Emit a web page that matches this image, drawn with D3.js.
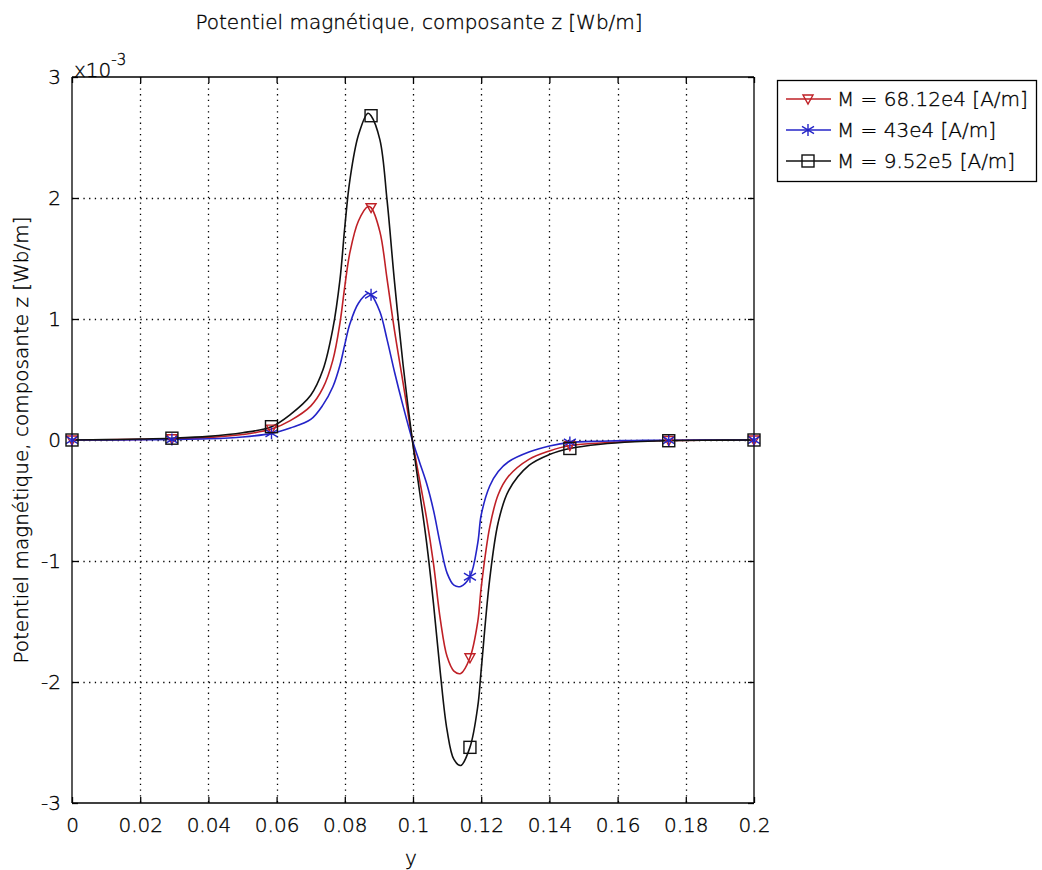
<!DOCTYPE html>
<html>
<head>
<meta charset="utf-8">
<script src="https://cdn.jsdelivr.net/npm/d3@7"></script>
<style>
  html, body { margin: 0; padding: 0; background: #fff; }
  svg { display: block; font-family: "DejaVu Sans", Verdana, sans-serif; font-weight: 200; }
  svg text { fill: #000; stroke: #000; stroke-width: 0.35px; }
</style>
</head>
<body>
<svg id="chart" width="1042" height="870"></svg>
<script>
// Position along y (m)
const yPos = [0, 0.01, 0.02, 0.0293, 0.04, 0.05, 0.0585, 0.064, 0.07, 0.0736, 0.0765, 0.0786, 0.080, 0.0815, 0.084, 0.0868, 0.0877, 0.0903, 0.0924, 0.0946, 0.0971, 0.0998, 0.102, 0.104, 0.106, 0.108, 0.110, 0.112, 0.114, 0.1167, 0.119, 0.120, 0.1225, 0.125, 0.128, 0.134, 0.140, 0.146, 0.155, 0.165, 0.175, 0.185, 0.2];

// Az in units of 1e-3 Wb/m
const azM68 = [0, 0.002, 0.005, 0.01, 0.02, 0.045, 0.09, 0.16, 0.28, 0.43, 0.66, 0.97, 1.27, 1.55, 1.81, 1.93, 1.92, 1.72, 1.33, 0.90, 0.47, 0, -0.34, -0.65, -1.02, -1.48, -1.79, -1.91, -1.93, -1.80, -1.50, -1.22, -0.72, -0.45, -0.30, -0.16, -0.09, -0.045, -0.025, -0.01, -0.004, -0.001, 0];
const azM43 = [0, 0.001, 0.002, 0.004, 0.01, 0.025, 0.055, 0.10, 0.17, 0.29, 0.44, 0.62, 0.79, 0.96, 1.13, 1.21, 1.20, 1.06, 0.83, 0.56, 0.28, 0, -0.19, -0.36, -0.58, -0.86, -1.10, -1.20, -1.21, -1.13, -0.85, -0.62, -0.38, -0.26, -0.18, -0.10, -0.05, -0.02, -0.01, -0.004, -0.002, -0.001, 0];
const azM952 = [0, 0.003, 0.008, 0.015, 0.03, 0.06, 0.11, 0.21, 0.37, 0.58, 0.92, 1.33, 1.76, 2.15, 2.52, 2.70, 2.68, 2.48, 1.98, 1.30, 0.62, 0, -0.44, -0.85, -1.35, -1.92, -2.40, -2.64, -2.69, -2.54, -2.20, -1.90, -1.15, -0.68, -0.42, -0.21, -0.12, -0.07, -0.035, -0.015, -0.006, -0.002, 0];

// Positions that carry a marker
const markerPos = [0, 0.0293, 0.0585, 0.0877, 0.1167, 0.146, 0.175, 0.2];

const xTicks = [0, 0.02, 0.04, 0.06, 0.08, 0.1, 0.12, 0.14, 0.16, 0.18, 0.2];
const xTickLabels = ["0", "0.02", "0.04", "0.06", "0.08", "0.1", "0.12", "0.14", "0.16", "0.18", "0.2"];
const yTicks = [-3, -2, -1, 0, 1, 2, 3];
const yTickLabels = ["-3", "-2", "-1", "0", "1", "2", "3"];

const seriesNames = ["M = 68.12e4 [A/m]", "M = 43e4 [A/m]", "M = 9.52e5 [A/m]"];
const seriesColors = ["#bf2026", "#2424c8", "#111111"];
const seriesMarkers = ["triangle", "star", "square"];
const seriesValues = [azM68, azM43, azM952];

const titleText = "Potentiel magnétique, composante z [Wb/m]";
const xLabelText = "y";
const yLabelText = "Potentiel magnétique, composante z [Wb/m]";

const svg = d3.select("#chart");
const plot = { left: 72, right: 754, top: 77, bottom: 803 };
const fontSize = "20px";

const x = d3.scaleLinear().domain([0, 0.2]).range([plot.left, plot.right]);
const y = d3.scaleLinear().domain([-3, 3]).range([plot.bottom, plot.top]);

// Grid
const grid = svg.append("g").attr("stroke", "#000").attr("stroke-width", 1.3)
  .attr("stroke-dasharray", "1.3,4.4");
grid.selectAll("line.v").data(xTicks.slice(1, -1)).join("line")
  .attr("x1", d => Math.round(x(d)) + 0.5).attr("x2", d => Math.round(x(d)) + 0.5)
  .attr("y1", plot.top).attr("y2", plot.bottom);
grid.selectAll("line.h").data(yTicks.slice(1, -1)).join("line")
  .attr("y1", d => Math.round(y(d)) + 0.5).attr("y2", d => Math.round(y(d)) + 0.5)
  .attr("x1", plot.left).attr("x2", plot.right);

// Axes with inward ticks on all four sides
const tickLen = 6;
const axB = d3.axisBottom(x).tickValues(xTicks).tickSize(-tickLen).tickPadding(15)
  .tickFormat((d, i) => xTickLabels[i]);
const axT = d3.axisTop(x).tickValues(xTicks).tickSize(-tickLen).tickFormat("");
const axL = d3.axisLeft(y).tickValues(yTicks).tickSize(-tickLen).tickPadding(11)
  .tickFormat((d, i) => yTickLabels[i]);
const axR = d3.axisRight(y).tickValues(yTicks).tickSize(-tickLen).tickFormat("");

function styleAxis(g) {
  g.attr("font-family", null).attr("font-size", null);
  g.selectAll("path").attr("stroke", "#000").attr("stroke-width", 1.3);
  g.selectAll("line").attr("stroke", "#000").attr("stroke-width", 1.3);
  g.selectAll("text").style("font-size", fontSize);
}
svg.append("g").attr("transform", `translate(0,${plot.bottom})`).call(axB).call(styleAxis)
  .call(g => g.select(".domain").attr("d", `M${plot.left},0H${plot.right}`));
svg.append("g").attr("transform", `translate(0,${plot.top})`).call(axT).call(styleAxis)
  .call(g => g.select(".domain").attr("d", `M${plot.left},0H${plot.right}`));
svg.append("g").attr("transform", `translate(${plot.left},0)`).call(axL).call(styleAxis)
  .call(g => g.select(".domain").attr("d", `M0,${plot.top}V${plot.bottom}`));
svg.append("g").attr("transform", `translate(${plot.right},0)`).call(axR).call(styleAxis)
  .call(g => g.select(".domain").attr("d", `M0,${plot.top}V${plot.bottom}`));

// Curves
const line = d3.line().x(d => x(d[0])).y(d => y(d[1])).curve(d3.curveCatmullRom.alpha(0.5));
svg.append("clipPath").attr("id", "pc").append("rect")
  .attr("x", plot.left - 8).attr("y", plot.top).attr("width", plot.right - plot.left + 16)
  .attr("height", plot.bottom - plot.top);

function drawMarker(g, kind, cx, cy, color) {
  if (kind === "square") {
    g.append("rect").attr("x", cx - 6).attr("y", cy - 6).attr("width", 12).attr("height", 12)
      .attr("fill", "none").attr("stroke", color).attr("stroke-width", 1.4);
  } else if (kind === "triangle") {
    g.append("path").attr("d", `M${cx - 5},${cy - 4}L${cx + 5},${cy - 4}L${cx},${cy + 5}Z`)
      .attr("fill", "none").attr("stroke", color).attr("stroke-width", 1.4);
  } else {
    const r = 6;
    g.append("path")
      .attr("d", `M${cx},${cy - r}V${cy + r}M${cx - r},${cy - r * 0.6}L${cx + r},${cy + r * 0.6}M${cx - r},${cy + r * 0.6}L${cx + r},${cy - r * 0.6}`)
      .attr("stroke", color).attr("stroke-width", 1.4).attr("fill", "none");
  }
}

const curves = svg.append("g").attr("clip-path", "url(#pc)");
seriesValues.forEach((vals, s) => {
  const pts = yPos.map((p, i) => [p, vals[i]]);
  curves.append("path").datum(pts).attr("d", line)
    .attr("fill", "none").attr("stroke", seriesColors[s]).attr("stroke-width", 1.6)
    .attr("stroke-linejoin", "round");
});
seriesValues.forEach((vals, s) => {
  const mg = curves.append("g");
  markerPos.forEach(mp => {
    const i = yPos.indexOf(mp);
    drawMarker(mg, seriesMarkers[s], x(yPos[i]), y(vals[i]), seriesColors[s]);
  });
});

// Exponent label
const ex = svg.append("text").attr("x", 74).attr("y", 77).style("font-size", fontSize);
ex.append("tspan").text("x10");
ex.append("tspan").attr("dy", -12).style("font-size", "15px").text("-3");

// Title and axis labels
svg.append("text").attr("x", 419).attr("y", 29).attr("text-anchor", "middle")
  .style("font-size", fontSize).text(titleText);
svg.append("text").attr("x", 411).attr("y", 865).attr("text-anchor", "middle")
  .style("font-size", fontSize).text(xLabelText);
svg.append("text").attr("transform", "translate(28,440) rotate(-90)").attr("text-anchor", "middle")
  .style("font-size", fontSize).text(yLabelText);

// Legend
const leg = svg.append("g");
leg.append("rect").attr("x", 777.5).attr("y", 80.5).attr("width", 259).attr("height", 101)
  .attr("fill", "#fff").attr("stroke", "#000").attr("stroke-width", 1.3);
const legY = [99, 130, 161];
seriesNames.forEach((name, s) => {
  const row = leg.append("g");
  row.append("line").attr("x1", 786).attr("x2", 831).attr("y1", legY[s]).attr("y2", legY[s])
    .attr("stroke", seriesColors[s]).attr("stroke-width", 1.6);
  drawMarker(row, seriesMarkers[s], 808, legY[s], seriesColors[s]);
  row.append("text").attr("x", 837).attr("y", legY[s] + 7).style("font-size", fontSize).text(name);
});
</script>
</body>
</html>
